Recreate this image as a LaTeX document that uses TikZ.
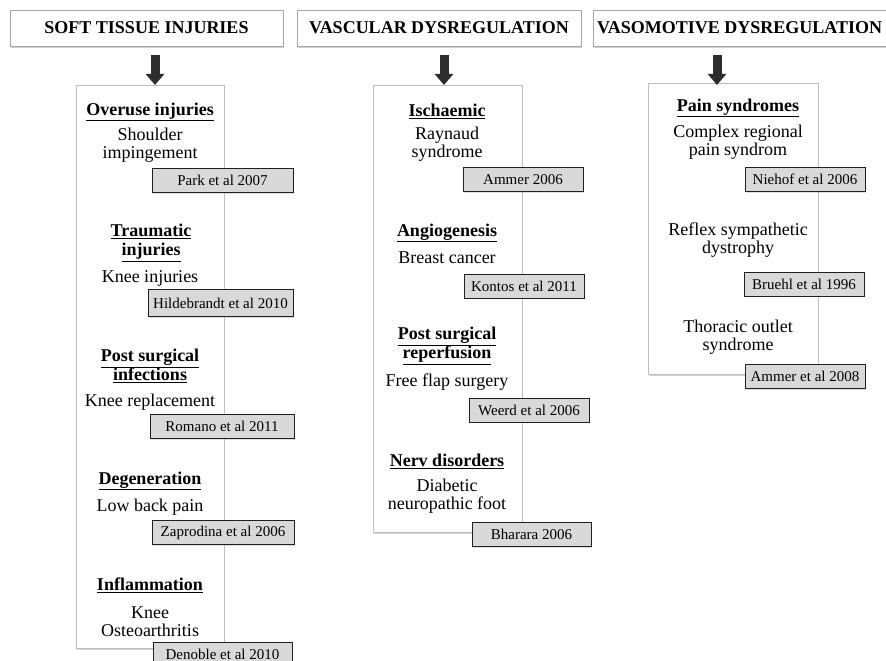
\documentclass[tikz,border=0pt]{standalone}
\usepackage{fontspec}
\setmainfont{Liberation Serif}
\usetikzlibrary{arrows.meta,shadows}
\tikzset{
  headbox/.style = {draw=gray!70, fill=white, minimum height=36pt,
    font=\bfseries\fontsize{18}{20}\selectfont,
    drop shadow={shadow xshift=1pt, shadow yshift=-2pt, opacity=0.35}},
  colbox/.style = {draw=gray!50, fill=white, anchor=north west,
    drop shadow={shadow xshift=1pt, shadow yshift=-2pt, opacity=0.35}},% column frame
  topic/.style = {align=center, inner sep=0pt,
    font=\bfseries\fontsize{18}{19}\selectfont},
  item/.style = {align=center, inner sep=0pt,
    font=\fontsize{18}{18}\selectfont},
  refbox/.style = {draw=gray!25!black, fill=gray!30, minimum height=24pt,
    inner sep=0pt, font=\fontsize{15}{16}\selectfont,
    drop shadow={shadow xshift=1pt, shadow yshift=-1pt, opacity=0.25}},% citation
  blockarrow/.style = {-{Triangle[width=18pt,length=11pt]}, line width=9pt,
    draw=gray!35!black}
}
\begin{document}
\begin{tikzpicture}[x=1pt,y=-1pt]
  \useasboundingbox (0,0) rectangle (886,661);
  % headers
  \node [headbox, minimum width=273pt] (h1) at (146.5,28) {SOFT TISSUE INJURIES};
  \node [headbox, minimum width=284pt] (h2) at (439,28) {VASCULAR DYSREGULATION};
  \node [headbox, anchor=west, inner xsep=4pt] (h3) at (593,28) {VASOMOTIVE DYSREGULATION};
  % column frames
  \node [colbox, minimum width=148pt, minimum height=563pt] (c1) at (76,85) {};
  \node [colbox, minimum width=149pt, minimum height=447pt] (c2) at (373,85) {};
  \node [colbox, minimum width=170pt, minimum height=291pt] (c3) at (648,83) {};
  \draw [blockarrow] ([xshift=8.5pt,yshift=-9pt]h1.south) -- ([xshift=8.5pt]h1.south |- c1.north) ;
  \draw [blockarrow] ([xshift=5pt,yshift=-9pt]h2.south) -- ([xshift=5pt]h2.south |- c2.north) ;
  \draw [blockarrow] ([yshift=-9pt]h3.south -| 717,0) -- ([yshift=-2pt]c3.north -| 717,0) ;
  % soft tissue injuries
  \node [topic] (t11) at (150,112) {\underline{Overuse injuries}};
  \node [item] (i11) at (150,145) {Shoulder\\impingement};
  \node [refbox, minimum width=141pt] (r11) at (222.5,180.5) {Park et al 2007};
  \node [topic] (t12) at (151,243) {\underline{Traumatic}\\\underline{injuries}};
  \node [item] (i12) at (150,278) {Knee injuries};
  \node [refbox, minimum width=145pt, minimum height=27pt] (r12) at (220.5,303) {Hildebrandt et al 2010};
  \node [topic] (t13) at (150,366) {\underline{Post surgical}\\\underline{infections}};
  \node [item] (i13) at (150,402) {Knee replacement};
  \node [refbox, minimum width=144pt] (r13) at (222,426.5) {Romano et al 2011};
  \node [topic] (t14) at (150,481) {\underline{Degeneration}};
  \node [item] (i14) at (150,507) {Low back pain};
  \node [refbox, minimum width=142pt] (r14) at (223,532.5) {Zaprodina et al 2006};
  \node [topic] (t15) at (150,585) {\underline{Inflammation}};
  \node [item] (i15) at (150,622) {Knee\\Osteoarthritis};
  \node [refbox, minimum width=139pt] (r15) at (222.5,654) {Denoble et al 2010};
  % vascular dysregulation
  \node [topic] (t21) at (447,111) {\underline{Ischaemic}};
  \node [item] (i21) at (447,144.5) {Raynaud\\syndrome};
  \node [refbox, minimum width=120pt] (r21) at (523,179.5) {Ammer 2006};
  \node [topic] (t22) at (447,233) {\underline{Angiogenesis}};
  \node [item] (i22) at (447,258) {Breast cancer};
  \node [refbox, minimum width=120pt] (r22) at (524,286) {Kontos et al 2011};
  \node [topic] (t23) at (447,346) {\underline{Post surgical}\\\underline{reperfusion}};
  \node [item] (i23) at (447,382) {Free flap surgery};
  \node [refbox, minimum width=120pt] (r23) at (529,410) {Weerd et al 2006};
  \node [topic] (t24) at (447,461) {\underline{Nerv disorders}};
  \node [item] (i24) at (447,496.5) {Diabetic\\neuropathic foot};
  \node [refbox, minimum width=119pt] (r24) at (531.5,534.5) {Bharara 2006};
  % vasomotive dysregulation
  \node [topic] (t31) at (738,108) {\underline{Pain syndromes}};
  \node [item] (i31) at (738,142) {Complex regional\\pain syndrom};
  \node [refbox, minimum width=120pt] (r31) at (805,179.5) {Niehof et al 2006};
  \node [item] (i32) at (738,240.5) {Reflex sympathetic\\dystrophy};
  \node [refbox, minimum width=120pt] (r32) at (804,284) {Bruehl et al 1996};
  \node [item] (i33) at (738,337) {Thoracic outlet\\syndrome};
  \node [refbox, minimum width=120pt] (r33) at (805,376.5) {Ammer et al 2008};
\end{tikzpicture}
\end{document}
